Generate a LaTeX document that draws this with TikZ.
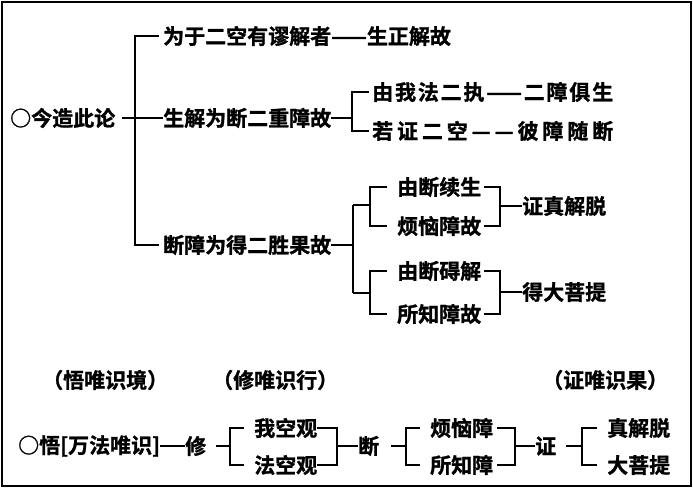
\documentclass[tikz,border=0pt]{standalone}
\usepackage{fontspec}
\setmainfont{Noto Sans CJK SC}[UprightFont=* Bold,FakeBold=1.2]
\usepackage{tikz}
\usetikzlibrary{calc}
\tikzset{
    item/.style={anchor=west,inner sep=0pt,font=\fontsize{21}{25}\selectfont},
    link/.style={line width=1.6pt},
    frame/.style={line width=2.6pt}
    }

\begin{document}
\begin{tikzpicture}[x=1pt,y=-1pt]
        \useasboundingbox (0,0) rectangle (693,488);
        \draw[frame] (2,2) rectangle (691,486);

        % upper tree
        \node[item] (root) at (10,118) {○今造此论};
        \node[item] (b1) at (163,36) {为于二空有谬解者——生正解故};
        \node[item] (b2) at (163,118) {生解为断二重障故};
        \node[item] (b3) at (163,245) {断障为得二胜果故};
        \node[item] (c1) at (372,92) {\makebox[241pt][s]{由\hfil 我\hfil 法\hfil 二\hfil 执\hfil ——\hfil 二\hfil 障\hfil 俱\hfil 生}};
        \node[item] (c2) at (372,131) {\makebox[241pt][s]{若\hfil 证\hfil 二\hfil 空\hfil —\hfil —\hfil 彼\hfil 障\hfil 随\hfil 断}};
        \node[item] (d1) at (397,187) {由断续生};
        \node[item] (d2) at (397,226) {烦恼障故};
        \node[item] (d3) at (397,271) {由断碍解};
        \node[item] (d4) at (397,314) {所知障故};
        \node[item] (e1) at (522,206) {证真解脱};
        \node[item] (e2) at (522,292) {得大菩提};

        %edges
        \draw[link] (root.east) ++(7,0) -- (b2.west);
        \draw[link] (b1.west) ++(-4,0) -- (135,36) -- (135,245) -- ($(b3.west)+(-4,0)$);
        \draw[link] (b2.east) -- (352,118);
        \draw[link] (c1.west) ++(-3,0) -- (352,92) -- (352,131) -- ($(c2.west)+(-3,0)$);
        \draw[link] (b3.east) -- (353,245);
        \draw[link] (353,205) -- (353,293);
        \draw[link] (d1.west) ++(-10,0) -- (370,187) -- (370,226) -- ($(d2.west)+(-10,0)$);
        \draw[link] (353,205) -- (370,205);
        \draw[link] (d3.west) ++(-10,0) -- (370,271) -- (370,314) -- ($(d4.west)+(-10,0)$);
        \draw[link] (353,293) -- (370,293);
        \draw[link] (d1.east) ++(3,0) -- (500,187) -- (500,226) -- ($(d2.east)+(3,0)$);
        \draw[link] (500,206) -- (e1.west);
        \draw[link] (d3.east) ++(3,0) -- (500,271) -- (500,314) -- ($(d4.east)+(3,0)$);
        \draw[link] (500,292) -- (e2.west);

        % lower row
        \node[item] (h1) at (42,380) {（悟唯识境）};
        \node[item] (h2) at (212,380) {（修唯识行）};
        \node[item] (h3) at (542,380) {（证唯识果）};
        \node[item] (w) at (18,446) {○悟[万法唯识]};
        \node[item] (x) at (185,446) {修};
        \node[item] (g1) at (254,428) {我空观};
        \node[item] (g2) at (254,465) {法空观};
        \node[item] (cut) at (358,446) {断};
        \node[item] (k1) at (430,428) {烦恼障};
        \node[item] (k2) at (430,465) {所知障};
        \node[item] (prove) at (535,446) {证};
        \node[item] (m1) at (607,428) {真解脱};
        \node[item] (m2) at (607,465) {大菩提};

        \draw[link] (w.east) -- (x.west);
        \draw[link] (x.east) ++(10,0) -- (230,446);
        \draw[link] (g1.west) ++(-10,0) -- (230,428) -- (230,465) -- ($(g2.west)+(-10,0)$);
        \draw[link] (g1.east) -- (337,428) -- (337,465) -- (g2.east);
        \draw[link] (337,446) -- (cut.west);
        \draw[link] (cut.east) ++(12,0) -- (406,446);
        \draw[link] (k1.west) ++(-10,0) -- (406,428) -- (406,465) -- ($(k2.west)+(-10,0)$);
        \draw[link] (k1.east) ++(4,0) -- (515,428) -- (515,465) -- ($(k2.east)+(4,0)$);
        \draw[link] (515,446) -- (prove.west);
        \draw[link] (prove.east) ++(10,0) -- (582,446);
        \draw[link] (m1.west) ++(-10,0) -- (582,428) -- (582,465) -- ($(m2.west)+(-10,0)$);
\end{tikzpicture}
\end{document}
